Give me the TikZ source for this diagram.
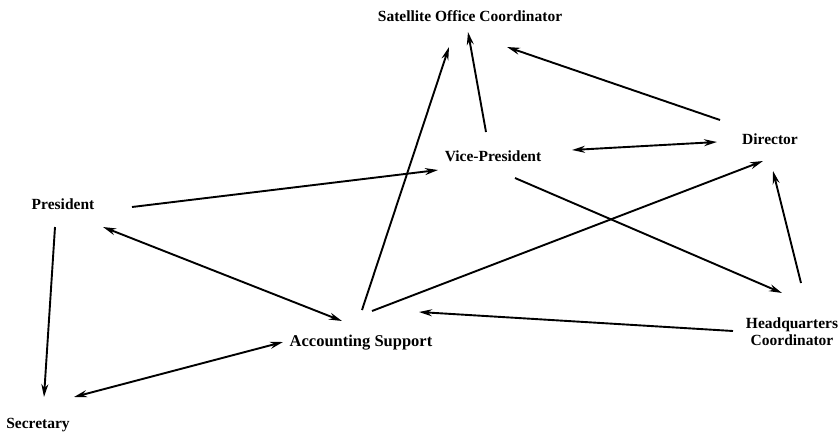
\documentclass[tikz,border=0pt]{standalone}
\usepackage{fontspec}
\setmainfont{Liberation Serif}
\usetikzlibrary{arrows.meta}
\begin{document}
\begin{tikzpicture}[x=1pt,y=-1pt,
  role/.style={font=\fontsize{15.5}{17}\selectfont\bfseries, inner sep=0pt, anchor=base},
  link/.style={line width=1.9pt, -{Stealth[length=13pt,width=7pt]}},
  link2/.style={line width=1.9pt, {Stealth[length=13pt,width=7pt]}-{Stealth[length=13pt,width=7pt]}}]
\useasboundingbox (0,0) rectangle (840,431);

% people in the office network
\node[role] (sat)  at (470,21)  {Satellite Office Coordinator};
\node[role] (vp)   at (493,161) {Vice-President};
\node[role] (dir)  at (770,144) {Director};
\node[role] (pres) at (63,209)  {President};
\node[role, font=\fontsize{16.5}{17}\selectfont\bfseries] (acc) at (361,346) {Accounting Support};
\node[role, anchor=center, align=center] (hq) at (792,332) {Headquarters\\Coordinator};
\node[role] (sec)  at (38,428)  {Secretary};

% one-way links
\draw[link] ([shift={(69,-2)}]pres.base)  -- ([shift={(-55,9)}]vp.base);
\draw[link] ([shift={(-7,-29)}]vp.base)   -- ([shift={(-2,11)}]sat.base);
\draw[link] ([shift={(1,-36)}]acc.base)   -- ([shift={(-21,26)}]sat.base);
\draw[link] ([shift={(-50,-24)}]dir.base) -- ([shift={(37,26)}]sat.base);
\draw[link] ([shift={(11,-35)}]acc.base)  -- ([shift={(-7,17)}]dir.base);
\draw[link] ([shift={(22,17)}]vp.base)    -- ([shift={(-10,-39)}]hq.center);
\draw[link] ([shift={(9,-49)}]hq.center)  -- ([shift={(3,27)}]dir.base);
\draw[link] ([shift={(-59,-1)}]hq.center) -- ([shift={(58,-34)}]acc.base);
\draw[link] ([shift={(-8,18)}]pres.base)  -- ([shift={(6,-31)}]sec.base);

% two-way links
\draw[link2] ([shift={(79,-11)}]vp.base)  -- ([shift={(-53,-2)}]dir.base);
\draw[link2] ([shift={(40,18)}]pres.base) -- ([shift={(-19,-25)}]acc.base);
\draw[link2] ([shift={(-78,-4)}]acc.base) -- ([shift={(36,-31)}]sec.base);
\end{tikzpicture}
\end{document}
